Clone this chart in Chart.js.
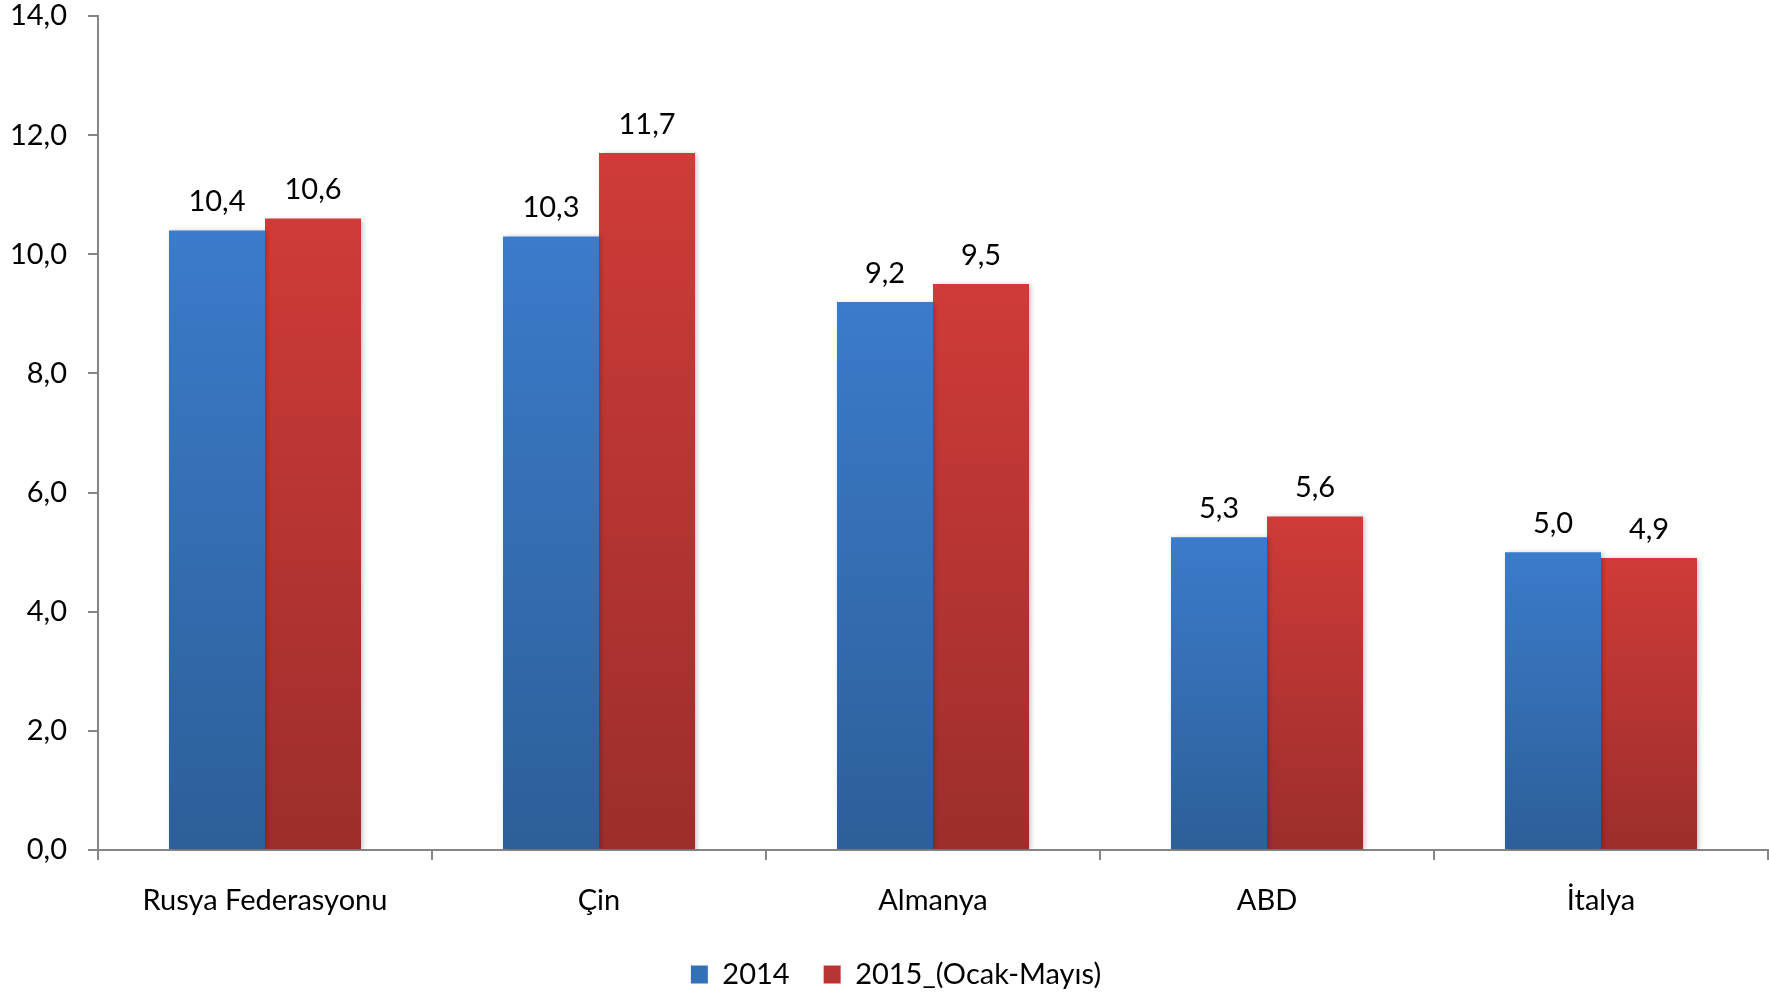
<!DOCTYPE html>
<html>
<head>
<meta charset="utf-8">
<script src="https://cdn.jsdelivr.net/npm/chart.js@4.4.1/dist/chart.umd.min.js"></script>
<style>
  body { margin: 0; background: #fff; }
  #wrap { width: 1769px; height: 995px; }
</style>
</head>
<body>
<div id="wrap"><canvas id="chart" width="1769" height="995"></canvas></div>
<script>
// values
const categories = ["Rusya Federasyonu", "Çin", "Almanya", "ABD", "İtalya"];
const values2014 = [10.4, 10.3, 9.2, 5.25, 5.0];
const values2015 = [10.6, 11.7, 9.5, 5.6, 4.9];
const seriesNames = ["2014", "2015_(Ocak-Mayıs)"];
const yTicksMax = 14;
const yTicksStep = 2;

const FONT = "Lato, 'Open Sans', sans-serif";
const axisGray = "#868686";

function fmt(v) {
    return v.toFixed(1).replace(".", ",");
}

// vertical gradient per bar, light on top and dark at the base
function barGradient(top, bottom) {
    return function(ctx) {
        const chart = ctx.chart;
        const y = chart.scales.y;
        if (!chart.chartArea || !y || ctx.raw === undefined) return top;
        const y1 = y.getPixelForValue(ctx.raw);
        const y0 = y.getPixelForValue(0);
        if (!isFinite(y1) || !isFinite(y0) || y1 === y0) return top;
        const g = chart.ctx.createLinearGradient(0, y1, 0, y0);
        g.addColorStop(0, top);
        g.addColorStop(1, bottom);
        return g;
    };
}

// numbers above each bar
const valueLabels = {
    id: "valueLabels",
    afterDatasetsDraw(chart) {
        const ctx = chart.ctx;
        ctx.save();
        ctx.font = "29px " + FONT;
        ctx.fillStyle = "#000";
        ctx.textAlign = "center";
        ctx.textBaseline = "bottom";
        chart.data.datasets.forEach((ds, i) => {
            const meta = chart.getDatasetMeta(i);
            meta.data.forEach((bar, j) => {
                ctx.fillText(fmt(ds.data[j]), bar.x, bar.y - 14);
            });
        });
        ctx.restore();
    }
};

// soft shadow on the right of the bars
const barShadow = {
    id: "barShadow",
    beforeDatasetsDraw(chart) {
        const ctx = chart.ctx;
        ctx.save();
        ctx.shadowColor = "rgba(0,0,0,0.25)";
        ctx.shadowBlur = 5;
        ctx.shadowOffsetX = 2;
        ctx.shadowOffsetY = 1;
    },
    afterDatasetsDraw(chart) {
        chart.ctx.restore();
    }
};

// legend sits a little right of centre in the original
const legendShift = {
    id: "legendShift",
    afterLayout(chart) {
        if (chart.legend) {
            chart.legend.left += 12;
            chart.legend.right += 12;
        }
    }
};

const ctx = document.getElementById("chart").getContext("2d");
new Chart(ctx, {
    type: "bar",
    data: {
        labels: categories,
        datasets: [{
            label: seriesNames[0],
            data: values2014,
            backgroundColor: barGradient("#3b7bcb", "#2d5f98"),
            borderWidth: 0
        }, {
            label: seriesNames[1],
            data: values2015,
            backgroundColor: barGradient("#cf3b38", "#9c2e2c"),
            borderWidth: 0
        }]
    },
    options: {
        responsive: false,
        animation: false,
        layout: { padding: { top: 16, right: 1, left: 0, bottom: -4 } },
        datasets: {
            bar: { barPercentage: 1.0, categoryPercentage: 0.575 }
        },
        scales: {
            x: {
                grid: {
                    offset: true,
                    drawOnChartArea: false,
                    drawTicks: true,
                    tickLength: 10,
                    color: axisGray,
                    lineWidth: 2
                },
                border: { display: true, color: axisGray, width: 2 },
                ticks: {
                    color: "#000",
                    font: { family: FONT, size: 29 },
                    padding: 23,
                    maxRotation: 0,
                    autoSkip: false
                },
                afterFit(scale) {
                    scale.height = 76;
                    scale.paddingLeft = 0;
                    scale.paddingRight = 0;
                }
            },
            y: {
                min: 0,
                max: yTicksMax,
                grid: {
                    drawOnChartArea: false,
                    drawTicks: true,
                    tickLength: 10,
                    color: axisGray,
                    lineWidth: 2
                },
                border: { display: true, color: axisGray, width: 2 },
                ticks: {
                    stepSize: yTicksStep,
                    color: "#000",
                    font: { family: FONT, size: 29 },
                    padding: 21,
                    callback: v => fmt(v)
                },
                afterFit(scale) {
                    scale.width = 98;
                    scale.paddingTop = 0;
                    scale.paddingBottom = 0;
                }
            }
        },
        plugins: {
            legend: {
                position: "bottom",
                labels: {
                    color: "#000",
                    font: { family: FONT, size: 29 },
                    boxWidth: 17,
                    boxHeight: 18,
                    padding: 34,
                    generateLabels(chart) {
                        const fills = ["#3470b8", "#b93533"];
                        return chart.data.datasets.map((ds, i) => ({
                            text: ds.label,
                            fillStyle: fills[i],
                            strokeStyle: fills[i],
                            lineWidth: 0,
                            hidden: false,
                            datasetIndex: i,
                            fontColor: "#000"
                        }));
                    }
                }
            },
            tooltip: { enabled: false }
        }
    },
    plugins: [barShadow, valueLabels, legendShift]
});
</script>
</body>
</html>
